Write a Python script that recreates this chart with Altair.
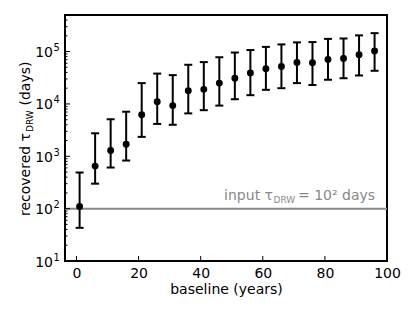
import altair as alt
import pandas as pd

# ---- data ----
baseline = [1, 6, 11, 16, 21, 26, 31, 36, 41, 46, 51, 56, 61, 66, 71, 76, 81, 86, 91, 96]
tau = [110, 650, 1290, 1700, 6200, 11000, 9300, 17800, 19000, 25000,
       31000, 39000, 47000, 52000, 62000, 61000, 71000, 74000, 87000, 103000]
tau_hi = [490, 2750, 5100, 7100, 25000, 38000, 35500, 56000, 63000, 78000,
          96000, 107000, 123000, 137000, 150000, 152000, 175000, 178000, 204000, 225000]
tau_lo = [43, 300, 610, 830, 2350, 4150, 4000, 6600, 7600, 9300,
          12300, 14700, 18600, 20000, 25000, 23000, 29000, 31000, 35000, 43000]
input_tau = [100]

x_ticks = [0, 20, 40, 60, 80, 100]
y_ticks = [10, 100, 1000, 10000, 100000]
y_exp = ["1", "2", "3", "4", "5"]
y_minor = [m * 10 ** k for k in range(1, 6) for m in range(2, 10) if m * 10 ** k <= 5e5]

W, H = 322, 246
FONT = "DejaVu Sans"
FS = 14
SUB = 9.0

df = pd.DataFrame({"baseline": baseline, "tau": tau, "hi": tau_hi, "lo": tau_lo})
one = pd.DataFrame({"a": [0]})
ylab = pd.DataFrame({"t": y_ticks, "e": y_exp})

xs = alt.Scale(domain=[-3.7, 100], nice=False, zero=False)
ys = alt.Scale(type="log", domain=[10, 5e5], nice=False)

xaxis = alt.Axis(values=x_ticks, title="baseline (years)", ticks=False, tickSize=0, domain=False,
                 grid=False, labelFont=FONT, labelFontSize=FS, labelColor="black", labelPadding=5,
                 titleFont=FONT, titleFontSize=FS, titleFontWeight="normal", titleColor="black",
                 titlePadding=2, labelFlush=False)

hline = alt.Chart(pd.DataFrame({"v": input_tau})).mark_rule(color="#888888", strokeWidth=2).encode(
    y=alt.Y("v:Q", scale=ys, axis=None)
)

bars = alt.Chart(df).mark_rule(color="black", strokeWidth=2).encode(
    x=alt.X("baseline:Q", scale=xs, axis=xaxis),
    y=alt.Y("lo:Q", scale=ys, axis=None),
    y2="hi:Q",
)
cap_hi = alt.Chart(df).mark_tick(color="black", orient="horizontal", size=8, thickness=2, opacity=1).encode(
    x=alt.X("baseline:Q", scale=xs), y=alt.Y("hi:Q", scale=ys)
)
cap_lo = alt.Chart(df).mark_tick(color="black", orient="horizontal", size=8, thickness=2, opacity=1).encode(
    x=alt.X("baseline:Q", scale=xs), y=alt.Y("lo:Q", scale=ys)
)
pts = alt.Chart(df).mark_circle(color="black", size=48, opacity=1).encode(
    x=alt.X("baseline:Q", scale=xs), y=alt.Y("tau:Q", scale=ys)
)

# inward ticks
xt = alt.Chart(pd.DataFrame({"t": x_ticks})).mark_rule(color="black", strokeWidth=1).encode(
    x=alt.X("t:Q", scale=xs), y=alt.value(H), y2=alt.value(H - 5)
)
yt = alt.Chart(pd.DataFrame({"t": y_ticks})).mark_rule(color="black", strokeWidth=1).encode(
    y=alt.Y("t:Q", scale=ys), x=alt.value(0), x2=alt.value(5)
)
ytm = alt.Chart(pd.DataFrame({"t": y_minor})).mark_rule(color="black", strokeWidth=1).encode(
    y=alt.Y("t:Q", scale=ys), x=alt.value(0), x2=alt.value(2.5)
)

# y tick labels 10^n
ylab_base = alt.Chart(ylab).mark_text(text="10", font=FONT, fontSize=FS, color="black", align="right",
                                      baseline="alphabetic", dy=5.5).encode(
    y=alt.Y("t:Q", scale=ys), x=alt.value(-12)
)
ylab_exp = alt.Chart(ylab).mark_text(font=FONT, fontSize=SUB + 0.8, color="black", align="left",
                                     baseline="alphabetic", dy=-0.5).encode(
    y=alt.Y("t:Q", scale=ys), x=alt.value(-11.5), text="e:N"
)

# annotation text
GRAY = "#888888"
a1 = alt.Chart(one).mark_text(text="input τ", font=FONT, fontSize=FS, color=GRAY, align="right",
                              baseline="alphabetic").encode(x=alt.value(208), y=alt.value(185))
a2 = alt.Chart(one).mark_text(text="DRW", font=FONT, fontSize=SUB, color=GRAY, align="left",
                              baseline="alphabetic").encode(x=alt.value(208.5), y=alt.value(188))
a3 = alt.Chart(one).mark_text(text="= 10² days", font=FONT, fontSize=FS, color=GRAY, align="left",
                              baseline="alphabetic").encode(x=alt.value(233), y=alt.value(185))

# y title (rotated) with subscript
TX = -35
Y0 = 201
t1 = alt.Chart(one).mark_text(text="recovered τ", font=FONT, fontSize=FS, color="black", align="left",
                              baseline="alphabetic", angle=270).encode(x=alt.value(TX), y=alt.value(Y0))
t2 = alt.Chart(one).mark_text(text="DRW", font=FONT, fontSize=SUB, color="black", align="left",
                              baseline="alphabetic", angle=270).encode(x=alt.value(TX + 3), y=alt.value(Y0 - 84))
t3 = alt.Chart(one).mark_text(text="(days)", font=FONT, fontSize=FS, color="black", align="left",
                              baseline="alphabetic", angle=270).encode(x=alt.value(TX), y=alt.value(Y0 - 84 - 22 - 4.5))

chart = alt.layer(hline, bars, cap_hi, cap_lo, pts, xt, yt, ytm, ylab_base, ylab_exp,
                  a1, a2, a3, t1, t2, t3).properties(
    width=W, height=H,
    background="white",
    autosize=alt.AutoSizeParams(type="none"),
    padding={"left": 57, "top": 7, "right": 20, "bottom": 42},
).configure_view(stroke="black", strokeWidth=2)

chart.save("out.html", embed_options={"renderer": "svg", "actions": False})
